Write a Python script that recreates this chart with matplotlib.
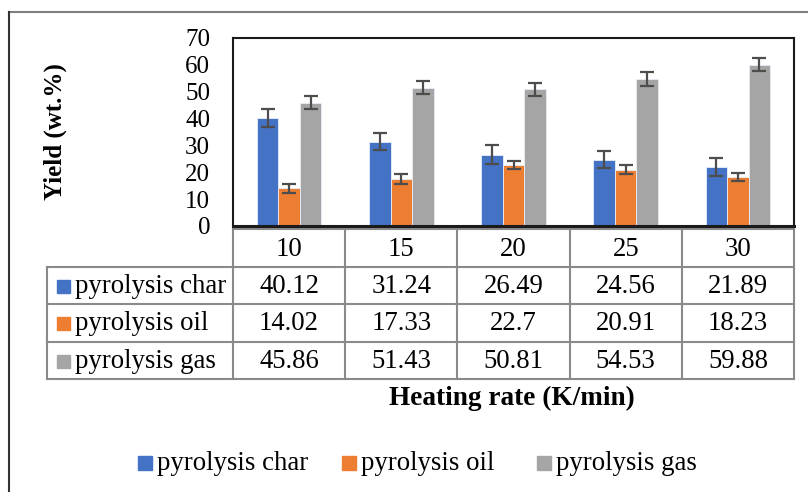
import matplotlib
matplotlib.use('Agg')
import matplotlib.pyplot as plt
from matplotlib.patches import Rectangle
import numpy as np

plt.rcParams['font.family'] = ['Liberation Serif', 'DejaVu Serif']

rates = ['10', '15', '20', '25', '30']
series = ['pyrolysis char', 'pyrolysis oil', 'pyrolysis gas']
char = [40.12, 31.24, 26.49, 24.56, 21.89]
oil = [14.02, 17.33, 22.7, 20.91, 18.23]
gas = [45.86, 51.43, 50.81, 54.53, 59.88]
char_err = [3.5, 3.2, 3.5, 3.2, 3.2]
oil_err = [1.6, 1.9, 1.5, 1.6, 1.5]
gas_err = [2.5, 2.5, 2.4, 2.6, 2.5]
colors = ['#4472C4', '#ED7D31', '#A5A5A5']

W, H = 808, 492
fig = plt.figure(figsize=(W/100, H/100), dpi=100)

# overlay in pixel coords for frame, table and legend
ov = fig.add_axes([0, 0, 1, 1])
ov.set_xlim(0, W)
ov.set_ylim(H, 0)
ov.axis('off')

# plot area (pixels)
px0, px1, py0, py1 = 233, 794, 37.5, 226
ax = fig.add_axes([px0/W, 1-py1/H, (px1-px0)/W, (py1-py0)/H])

x = np.arange(len(rates))
bw = 0.192
vals = [char, oil, gas]
errs = [char_err, oil_err, gas_err]
for i in range(3):
    ax.bar(x + (i-1)*bw, vals[i], bw, color=colors[i], edgecolor='#e8eef8', linewidth=0.6,
           yerr=errs[i], error_kw=dict(ecolor='#4d4d4d', elinewidth=1.6, capsize=5, capthick=1.6))

ax.set_xlim(-0.5, len(rates)-0.5)
ax.set_ylim(0, 70)
ax.set_yticks(range(0, 71, 10))
ax.set_xticks([])
ax.tick_params(axis='y', length=0, pad=16.5, labelsize=18)
for s in ['top', 'left', 'right']:
    ax.spines[s].set_linewidth(1.5)
    ax.spines[s].set_color('#1a1a1a')
ax.spines['bottom'].set_linewidth(2.2)
ax.spines['bottom'].set_color('#1a1a1a')

# outer frame (partially visible)
ov.plot([9, W], [12, 12], color='#808080', lw=1.5)
ov.plot([9, 9], [12, H], color='#333333', lw=1.5)

# data table
tc = '#8a8a8a'
fs = 19.3
colw = (px1 - px0) / len(rates)
rows_y = [229, 267, 304, 342, 379]
tl = 47
ov.plot([px0, px1], [rows_y[0], rows_y[0]], color=tc, lw=1.5)
for yy in rows_y[1:]:
    ov.plot([tl, px1], [yy, yy], color=tc, lw=1.5)
ov.plot([tl, tl], [rows_y[1], rows_y[-1]], color=tc, lw=1.5)
for j in range(len(rates)+1):
    xx = px0 + j*colw
    ov.plot([xx, xx], [rows_y[0], rows_y[-1]], color=tc, lw=1.5)

for j, r in enumerate(rates):
    ov.text(px0 + (j+0.5)*colw, (rows_y[0]+rows_y[1])/2 + 1, r, ha='center', va='center', fontsize=fs)
for i in range(3):
    yc = (rows_y[i+1] + rows_y[i+2]) / 2 + 1
    ov.add_patch(Rectangle((57, yc-7), 13, 13, color=colors[i]))
    ov.text(75, yc, series[i], ha='left', va='center', fontsize=fs)
    for j in range(len(rates)):
        ov.text(px0 + (j+0.5)*colw, yc, f'{vals[i][j]:g}', ha='center', va='center', fontsize=fs)

ov.text(512, 398, 'Heating rate (K/min)', ha='center', va='center', fontsize=19.6, fontweight='bold')
ov.text(55, (py0+py1)/2, 'Yield (wt.%)', ha='center', va='center', rotation=90,
        fontsize=18, fontweight='bold')

# legend
leg_x = [138, 342, 537]
for i in range(3):
    ov.add_patch(Rectangle((leg_x[i], 456), 14, 14, color=colors[i]))
    ov.text(leg_x[i] + 19, 463, series[i], ha='left', va='center', fontsize=fs)

fig.savefig('out.png', dpi=100)
